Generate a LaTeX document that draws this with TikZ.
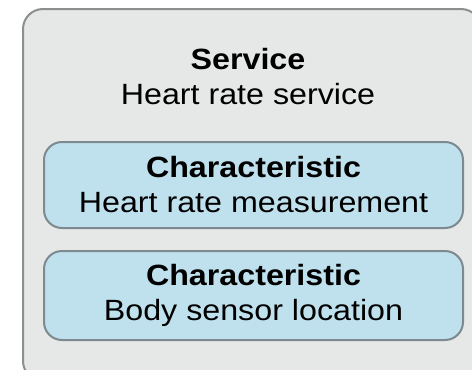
\documentclass[tikz,border=0pt]{standalone}
\usepackage{fontspec}
\setmainfont{Liberation Sans}[FakeStretch=1.1]
\definecolor{svcfill}{HTML}{E6E7E7}
\definecolor{svcline}{HTML}{8C8E8F}
\definecolor{charfill}{HTML}{BFE1ED}
\definecolor{charline}{HTML}{7D8A8F}
\tikzset{
    svcbox/.style={draw=svcline, fill=svcfill, line width=2pt, rounded corners=20pt, minimum width=458pt, minimum height=372pt},
    charbox/.style={draw=charline, fill=charfill, line width=2pt, rounded corners=18pt, minimum width=419pt, align=center,
        font=\fontsize{29.3}{35}\selectfont},
}
\begin{document}
\begin{tikzpicture}[x=1pt, y=-1pt]
    \useasboundingbox (0,0) rectangle (472,370);
    \clip (0,0) rectangle (472,370);
    \fill[white] (0,0) rectangle (472,370);

    \node[svcbox] (svc) at (252, 195) {};
    \node[align=center, font=\fontsize{29.3}{35}\selectfont] (svctitle) at (248, 77) {\textbf{Service}\\Heart rate service};

    \node[charbox, minimum height=86pt] (hrm) at (253.5, 185) {\textbf{Characteristic}\\Heart rate measurement};
    \node[charbox, minimum height=89pt] (bsl) at (253.5, 295.5) {\textbf{Characteristic}\\Body sensor location};
\end{tikzpicture}
\end{document}
